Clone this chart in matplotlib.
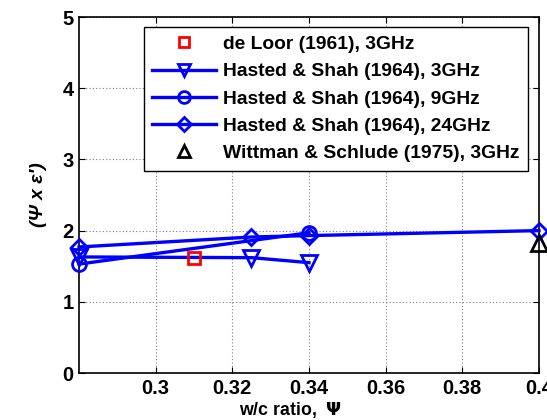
import matplotlib
matplotlib.use("Agg")
import matplotlib.pyplot as plt

plt.rcParams['font.family'] = ['Liberation Sans', 'DejaVu Sans']
plt.rcParams['font.weight'] = 'bold'

# w/c ratio vs (psi x eps')
deloor_x = [0.31]
deloor_y = [1.62]

hs3_x = [0.28, 0.325, 0.34]
hs3_y = [1.63, 1.62, 1.55]

hs9_x = [0.28, 0.34]
hs9_y = [1.53, 1.97]

hs24_x = [0.28, 0.325, 0.34, 0.40]
hs24_y = [1.77, 1.91, 1.93, 2.00]

ws_x = [0.40]
ws_y = [1.82]

labels = ["de Loor (1961), 3GHz",
          "Hasted & Shah (1964), 3GHz",
          "Hasted & Shah (1964), 9GHz",
          "Hasted & Shah (1964), 24GHz",
          "Wittman & Schlude (1975), 3GHz"]

x_ticks = [0.3, 0.32, 0.34, 0.36, 0.38, 0.4]
x_ticklabels = ["0.3", "0.32", "0.34", "0.36", "0.38", "0.4"]
y_ticks = [0, 1, 2, 3, 4, 5]

fig = plt.figure(figsize=(5.47, 4.2), dpi=100)
ax = fig.add_axes([0.1444, 0.1119, 0.841, 0.8476])

blue = '#0000ff'
ax.plot(deloor_x, deloor_y, ls='none', marker='s', ms=9, mfc='none',
        mec='#ff0000', mew=2, label=labels[0], clip_on=False, zorder=5)
ax.plot(hs3_x, hs3_y, color=blue, lw=2.4, marker='v', ms=11, mfc='none',
        mec=blue, mew=2, label=labels[1], clip_on=False, zorder=4)
ax.plot(hs9_x, hs9_y, color=blue, lw=2.4, marker='o', ms=10, mfc='none',
        mec=blue, mew=2, label=labels[2], clip_on=False, zorder=4)
ax.plot(hs24_x, hs24_y, color=blue, lw=2.4, marker='D', ms=8, mfc='none',
        mec=blue, mew=2, label=labels[3], clip_on=False, zorder=4)
ax.plot(ws_x, ws_y, ls='none', marker='^', ms=11, mfc='none',
        mec='black', mew=2, label=labels[4], clip_on=False, zorder=5)

ax.set_xlim(0.28, 0.40)
ax.set_ylim(0, 5)
ax.set_xticks(x_ticks)
ax.set_xticklabels(x_ticklabels)
ax.set_yticks(y_ticks)
ax.tick_params(direction='in', top=True, right=True, labelsize=14.5,
               length=4, width=0.8, pad=4)
for lab in ax.get_xticklabels() + ax.get_yticklabels():
    lab.set_fontweight('bold')
ax.grid(True, color='#808080', ls=(0, (1, 2)), lw=0.8)
for s in ax.spines.values():
    s.set_linewidth(1.2)

ax.set_xlabel(r"w/c ratio,  $\mathit{\Psi}$", fontsize=12.8, fontweight='bold')
ax.xaxis.set_label_coords(0.46, -0.075)
ax.set_ylabel("(Ψ x ε′)", fontsize=14, fontweight='bold', fontstyle='italic',
              labelpad=11)

leg = ax.legend(loc='upper right', bbox_to_anchor=(0.976, 0.972), fontsize=13.9,
                frameon=True, fancybox=False, edgecolor='black',
                framealpha=1, borderpad=0.45, labelspacing=0.5,
                handlelength=3.3, handletextpad=0.35, borderaxespad=0,
                markerscale=0.85)
leg.get_frame().set_linewidth(1.0)
for t in leg.get_texts():
    t.set_fontweight('bold')

fig.savefig("out.png", dpi=100)
